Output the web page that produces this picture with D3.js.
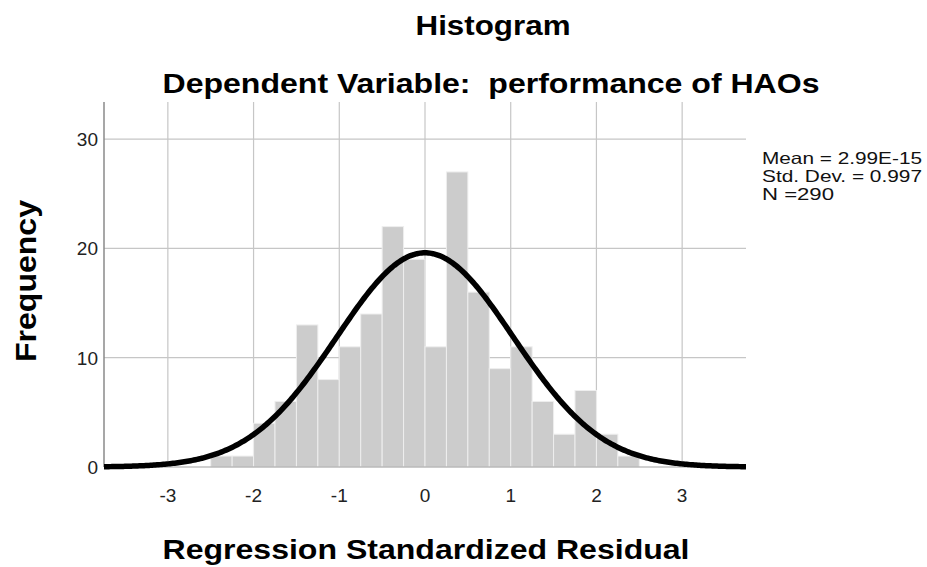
<!DOCTYPE html>
<html>
<head>
<meta charset="utf-8">
<script src="https://cdn.jsdelivr.net/npm/d3@7"></script>
<style>
  html, body { margin: 0; padding: 0; background: #fff; }
  svg { display: block; font-family: "Liberation Sans", Arial, sans-serif; }
</style>
</head>
<body>
<svg id="chart" width="927" height="567"></svg>
<script>
// ---- data ----
const binStarts = [-2.5, -2.25, -2.0, -1.75, -1.5, -1.25, -1.0, -0.75, -0.5, -0.25,
                   0.0, 0.25, 0.5, 0.75, 1.0, 1.25, 1.5, 1.75, 2.0, 2.25];
const frequencies = [1, 1, 4, 6, 13, 8, 11, 14, 22, 19,
                     11, 27, 16, 9, 11, 6, 3, 7, 3, 1];
const binWidth = 0.25;
const xTicks = [-3, -2, -1, 0, 1, 2, 3];
const yTicks = [0, 10, 20, 30];
const legendLines = ["Mean = 2.99E-15", "Std. Dev. = 0.997", "N =290"];
const legendWidths = [160, 160, 72];
const curveMean = 2.99e-15;
const curveDrawnSD = 1.03;  // spread of the normal curve as it is drawn
const curvePeak = 19.6;     // height of the normal curve at its mean
const titleText = "Histogram";
const subtitleText = "Dependent Variable:  performance of HAOs";
const xLabelText = "Regression Standardized Residual";
const yLabelText = "Frequency";

// ---- layout ----
const svg = d3.select("#chart");
const plot = { left: 104, right: 746, top: 102, bottom: 467 };

const x = d3.scaleLinear().domain([-3.745, 3.745]).range([plot.left, plot.right]);
const y = d3.scaleLinear().domain([0, 33.4]).range([plot.bottom, plot.top]);

const gridColor = "#c6c6c6";

// gridlines
svg.append("g").selectAll("line").data(xTicks).join("line")
  .attr("x1", d => x(d)).attr("x2", d => x(d))
  .attr("y1", plot.top).attr("y2", plot.bottom)
  .attr("stroke", gridColor).attr("stroke-width", 1.2);
svg.append("g").selectAll("line").data(yTicks.filter(d => d > 0)).join("line")
  .attr("x1", plot.left).attr("x2", plot.right)
  .attr("y1", d => y(d)).attr("y2", d => y(d))
  .attr("stroke", gridColor).attr("stroke-width", 1.2);

// bars
const bins = binStarts.map((s, i) => ({ x0: s, x1: s + binWidth, n: frequencies[i] }));
svg.append("g").selectAll("rect").data(bins).join("rect")
  .attr("x", d => x(d.x0))
  .attr("width", d => x(d.x1) - x(d.x0))
  .attr("y", d => y(d.n))
  .attr("height", d => y(0) - y(d.n))
  .attr("fill", "#cccccc")
  .attr("stroke", "#eeeeee")
  .attr("stroke-width", 1);

// axis lines
svg.append("line")
  .attr("x1", plot.left).attr("x2", plot.left)
  .attr("y1", plot.top).attr("y2", plot.bottom)
  .attr("stroke", "#8a8a8a").attr("stroke-width", 1.5);
svg.append("line")
  .attr("x1", plot.left).attr("x2", plot.right)
  .attr("y1", plot.bottom).attr("y2", plot.bottom)
  .attr("stroke", "#a0a0a0").attr("stroke-width", 1.2);

// normal curve
const curvePts = d3.range(0, 401).map(i => {
  const xv = x.domain()[0] + (x.domain()[1] - x.domain()[0]) * i / 400;
  const z = (xv - curveMean) / curveDrawnSD;
  return [xv, curvePeak * Math.exp(-0.5 * z * z)];
});
svg.append("path")
  .datum(curvePts)
  .attr("d", d3.line().x(d => x(d[0])).y(d => y(d[1])))
  .attr("fill", "none")
  .attr("stroke", "#000")
  .attr("stroke-width", 5.5)
  .attr("stroke-linejoin", "round");

// tick labels
svg.append("g").selectAll("text").data(xTicks).join("text")
  .attr("x", d => x(d)).attr("y", 502)
  .attr("text-anchor", "middle")
  .attr("font-size", 19).attr("fill", "#222")
  .text(d => d);
svg.append("g").selectAll("text").data(yTicks).join("text")
  .attr("x", 98).attr("y", d => y(d) + 7)
  .attr("text-anchor", "end")
  .attr("font-size", 19).attr("fill", "#222")
  .text(d => d);

// titles
svg.append("text").attr("x", 493).attr("y", 35).attr("text-anchor", "middle")
  .attr("font-size", 28).attr("font-weight", "bold")
  .attr("textLength", 155).attr("lengthAdjust", "spacingAndGlyphs")
  .text(titleText);
svg.append("text").attr("x", 491).attr("y", 93).attr("text-anchor", "middle")
  .attr("font-size", 28).attr("font-weight", "bold")
  .style("white-space", "pre")
  .attr("textLength", 657).attr("lengthAdjust", "spacingAndGlyphs")
  .text(subtitleText);
svg.append("text").attr("x", 426).attr("y", 559).attr("text-anchor", "middle")
  .attr("font-size", 28).attr("font-weight", "bold")
  .attr("textLength", 527).attr("lengthAdjust", "spacingAndGlyphs")
  .text(xLabelText);
svg.append("text")
  .attr("transform", "translate(36,281) rotate(-90)")
  .attr("text-anchor", "middle")
  .attr("font-size", 30).attr("font-weight", "bold")
  .attr("textLength", 162).attr("lengthAdjust", "spacingAndGlyphs")
  .text(yLabelText);

// legend
svg.append("g").selectAll("text").data(legendLines).join("text")
  .attr("x", 762).attr("y", (d, i) => 164 + i * 18)
  .attr("font-size", 16.5).attr("fill", "#111")
  .attr("textLength", (d, i) => legendWidths[i]).attr("lengthAdjust", "spacingAndGlyphs")
  .text(d => d);
</script>
</body>
</html>
